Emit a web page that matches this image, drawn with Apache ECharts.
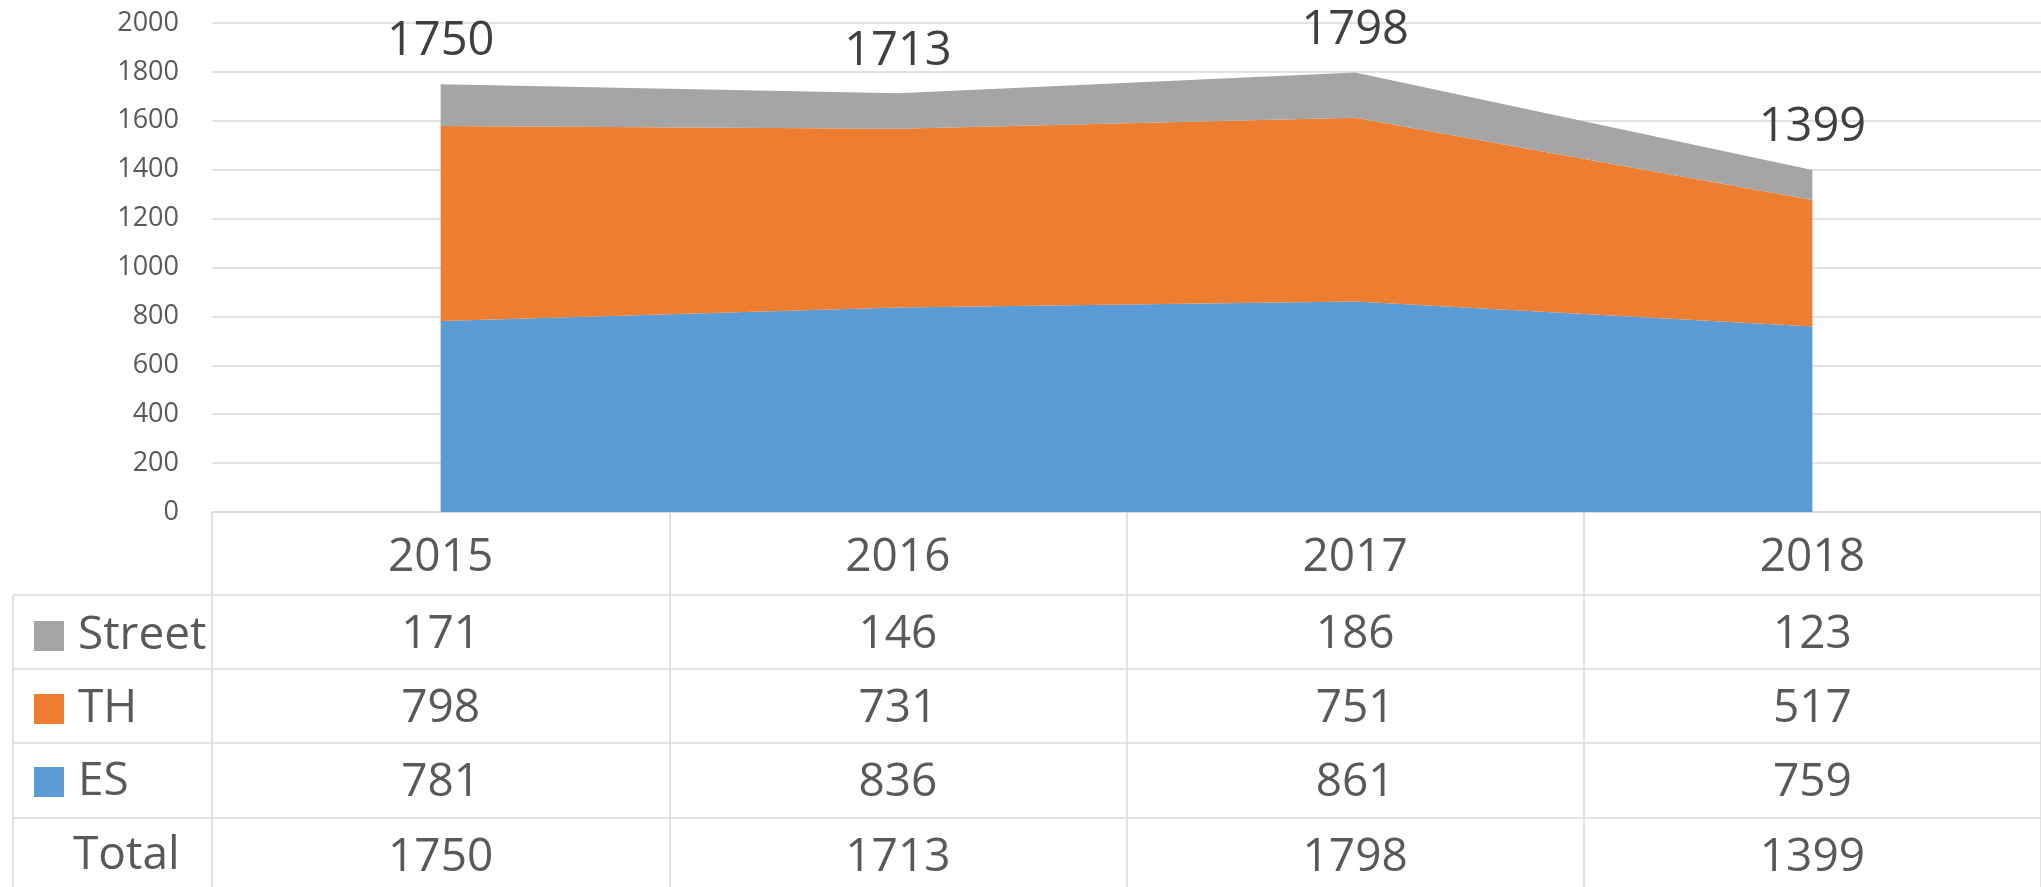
<!DOCTYPE html>
<html>
<head>
<meta charset="utf-8">
<script src="https://cdn.jsdelivr.net/npm/echarts@6/dist/echarts.min.js"></script>
<style>
  html, body { margin: 0; padding: 0; background: #fff; }
  #chart { width: 2041px; height: 887px; }
</style>
</head>
<body>
<div id="chart"></div>
<script>
const years = ['2015', '2016', '2017', '2018'];
const street = [171, 146, 186, 123];
const th = [798, 731, 751, 517];
const es = [781, 836, 861, 759];
const totals = [1750, 1713, 1798, 1399];
const yTicks = { min: 0, max: 2000, interval: 200 };

// table rows under the plot, top to bottom
const tableRows = [
  { name: 'Street', values: street },
  { name: 'TH', values: th },
  { name: 'ES', values: es },
  { name: 'Total', values: totals }
];

const FONT = '"Open Sans", "Noto Sans", sans-serif';
const LINE = '#d9d9d9';
const TEXT = '#595959';

// layout of the data table (pixels)
const axisY = 512;
const rowOffsets = [83, 157, 231, 306];
const leftEdge = 13;
const gridLeft = 212;

const chart = echarts.init(document.getElementById('chart'));

const rowAxes = tableRows.map((row, k) => ({
  type: 'category',
  data: years,
  position: 'bottom',
  offset: rowOffsets[k],
  axisLine: { show: true, lineStyle: { color: LINE, width: 1.5 } },
  axisTick: { show: false },
  splitLine: { show: false },
  axisLabel: {
    margin: 17,
    fontFamily: FONT,
    fontSize: 46,
    lineHeight: 46,
    color: TEXT,
    formatter: (v, i) => String(row.values[i])
  }
}));

// left column lines of the table
const tableLines = [];
rowOffsets.forEach(o => {
  tableLines.push({
    type: 'line',
    shape: { x1: leftEdge, y1: axisY + o, x2: gridLeft, y2: axisY + o },
    style: { stroke: LINE, lineWidth: 1.5 }
  });
});
tableLines.push({
  type: 'line',
  shape: { x1: leftEdge, y1: axisY + rowOffsets[0], x2: leftEdge, y2: 887 },
  style: { stroke: LINE, lineWidth: 1.5 }
});

const option = {
  animation: false,
  backgroundColor: '#fff',
  grid: { left: gridLeft, top: 23, width: 1843, bottom: 887 - axisY },
  legend: {
    data: ['Street', 'TH', 'ES'],
    orient: 'vertical',
    left: 29,
    top: 608,
    itemWidth: 30,
    itemHeight: 30,
    itemGap: 27,
    icon: 'rect',
    selectedMode: false,
    textStyle: {
      fontFamily: FONT,
      fontSize: 46,
      color: TEXT,
      padding: [0, 0, 0, 9]
    }
  },
  graphic: tableLines.concat([{
    type: 'text',
    left: 73,
    top: axisY + rowOffsets[3] + 15,
    style: { text: 'Total', font: '46px ' + FONT, fill: TEXT }
  }]),
  xAxis: [{
    type: 'category',
    data: years,
    boundaryGap: true,
    axisLine: { show: true, lineStyle: { color: LINE, width: 1.5 } },
    axisTick: {
      show: true,
      alignWithLabel: false,
      interval: 0,
      length: 887 - axisY,
      lineStyle: { color: LINE, width: 1.5 }
    },
    axisLabel: {
      margin: 23,
      fontFamily: FONT,
      fontSize: 46,
      lineHeight: 46,
      color: TEXT
    }
  }].concat(rowAxes),
  yAxis: {
    type: 'value',
    min: yTicks.min,
    max: yTicks.max,
    interval: yTicks.interval,
    axisLine: { show: false },
    axisTick: { show: false },
    splitLine: { lineStyle: { color: LINE, width: 1.5 } },
    axisLabel: {
      margin: 33, fontFamily: FONT, fontSize: 27, color: TEXT,
      formatter: v => String(v)
    }
  },
  series: [
    {
      name: 'ES', type: 'line', stack: 'total', data: es,
      color: '#5b9bd5', symbol: 'none',
      lineStyle: { width: 0 }, areaStyle: { color: '#5b9bd5', opacity: 1 }
    },
    {
      name: 'TH', type: 'line', stack: 'total', data: th,
      color: '#ed7d31', symbol: 'none',
      lineStyle: { width: 0 }, areaStyle: { color: '#ed7d31', opacity: 1 }
    },
    {
      name: 'Street', type: 'line', stack: 'total', data: street,
      color: '#a5a5a5', symbol: 'circle', symbolSize: 0.1, showSymbol: true,
      lineStyle: { width: 0 }, areaStyle: { color: '#a5a5a5', opacity: 1 },
      label: {
        show: true,
        position: 'top',
        distance: 19,
        fontFamily: FONT,
        fontSize: 47,
        lineHeight: 46,
        color: '#404040',
        formatter: p => String(totals[p.dataIndex])
      }
    }
  ]
};

chart.setOption(option);
</script>
</body>
</html>
